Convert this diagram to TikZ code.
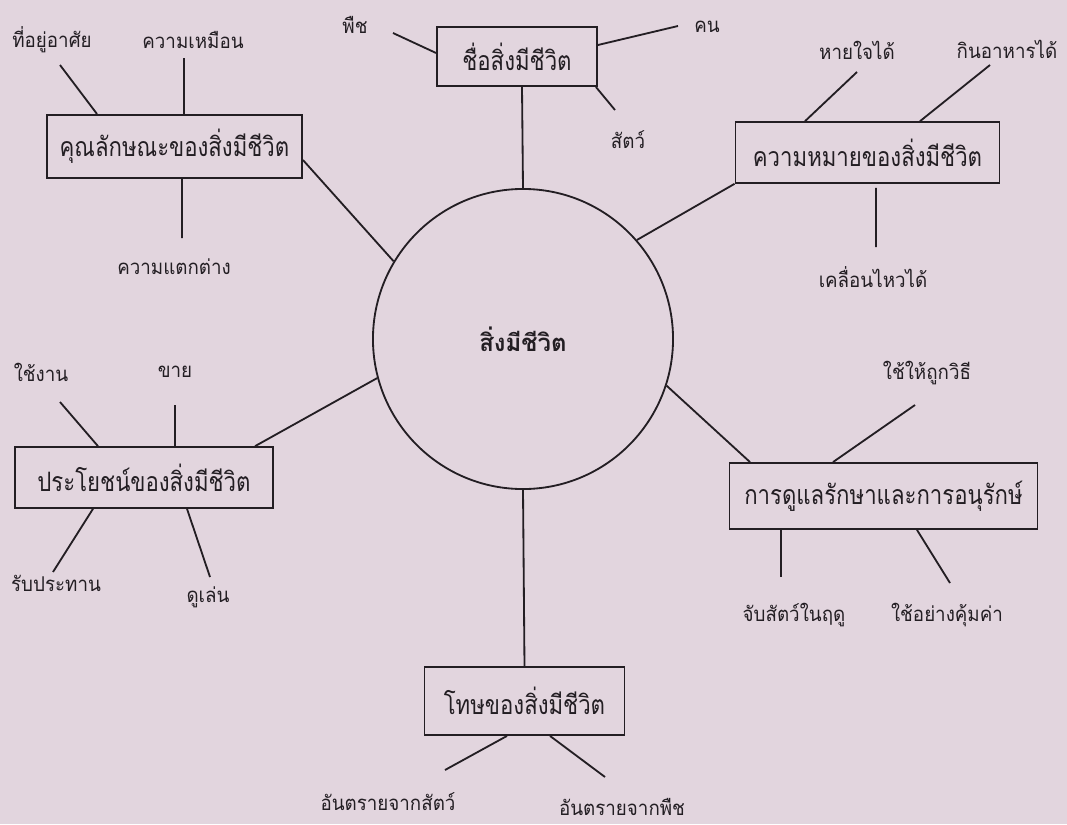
\documentclass[tikz,border=0pt]{standalone}
\usepackage{fontspec}
\newfontfamily\thaifont[Script=Thai]{Loma}
\newfontfamily\thainarrow[Script=Thai, FakeStretch=0.83]{Loma}
\newfontfamily\thaileaf[Script=Thai, FakeStretch=0.92]{Loma}
\usepackage{tikz}
\definecolor{paperpink}{RGB}{226,213,222}
\definecolor{inkdark}{RGB}{35,30,35}

\begin{document}
\begin{tikzpicture}[x=0.025cm, y=-0.025cm,
    topic/.style={rectangle, draw=inkdark, line width=1.3pt,
                  inner sep=2pt, text=inkdark,
                  font=\thainarrow\fontsize{19}{22}\selectfont},
    core/.style={circle, draw=inkdark, line width=1.3pt,
                 minimum size=7.5cm, inner sep=0pt, text=inkdark,
                 font=\thaifont\bfseries\fontsize{17}{20}\selectfont},
    leaf/.style={inner sep=1pt, text=inkdark,
                 font=\thaileaf\fontsize{14.5}{17}\selectfont},
    ln/.style={draw=inkdark, line width=1.3pt}
]
    % paper
    \fill[paperpink] (0,0) rectangle (1067,824);
    \useasboundingbox (0,0) rectangle (1067,824);

    % centre
    \node[core] (cen) at (523,339) {สิ่งมีชีวิต};

    % topics
    \node[topic, minimum width=4cm, minimum height=1.48cm]
        (names) at (517,56.5) {ชื่อสิ่งมีชีวิต};
    \node[topic, minimum width=6.375cm, minimum height=1.58cm]
        (trait) at (174.5,146.5) {คุณลักษณะของสิ่งมีชีวิต};
    \node[topic, minimum width=6.6cm, minimum height=1.52cm]
        (mean) at (867.5,152.5) {ความหมายของสิ่งมีชีวิต};
    \node[topic, minimum width=6.45cm, minimum height=1.52cm]
        (use) at (144,477.5) {ประโยชน์ของสิ่งมีชีวิต};
    \node[topic, minimum width=7.7cm, minimum height=1.65cm]
        (care) at (883.5,496) {การดูแลรักษาและการอนุรักษ์};
    \node[topic, minimum width=5cm, minimum height=1.7cm]
        (harm) at (524.5,701) {โทษของสิ่งมีชีวิต};

    % leaves
    \node[leaf] (plant)  at (355,25)  {พืช};
    \node[leaf] (human)  at (707,27)  {คน};
    \node[leaf] (animal) at (628,140) {สัตว์};
    \node[leaf] (home)   at (52,40)   {ที่อยู่อาศัย};
    \node[leaf] (alike)  at (193,40)  {ความเหมือน};
    \node[leaf] (differ) at (174,267) {ความแตกต่าง};
    \node[leaf] (breath) at (857,50)  {หายใจได้};
    \node[leaf] (eat)    at (1007,49) {กินอาหารได้};
    \node[leaf] (move)   at (873,277) {เคลื่อนไหวได้};
    \node[leaf] (work)   at (41,372)  {ใช้งาน};
    \node[leaf] (sell)   at (175,372) {ขาย};
    \node[leaf] (food)   at (56,583)  {รับประทาน};
    \node[leaf] (pet)    at (208,597) {ดูเล่น};
    \node[leaf] (right)  at (927,373) {ใช้ให้ถูกวิธี};
    \node[leaf] (season) at (794,615) {จับสัตว์ในฤดู};
    \node[leaf] (worth)  at (947,615) {ใช้อย่างคุ้มค่า};
    \node[leaf] (hanim)  at (388,802) {อันตรายจากสัตว์};
    \node[leaf] (hplant) at (622,807) {อันตรายจากพืช};

    % free ends of the short spokes
    \coordinate (e-plant)  at (393,33);
    \coordinate (e-human)  at (678,26);
    \coordinate (e-animal) at (615,110);
    \coordinate (e-home)   at (60,65);
    \coordinate (e-alike)  at (184,58);
    \coordinate (e-differ) at (182,238);
    \coordinate (e-breath) at (857,72);
    \coordinate (e-eat)    at (990,65);
    \coordinate (e-move)   at (876,247);
    \coordinate (e-work)   at (60,402);
    \coordinate (e-sell)   at (175,405);
    \coordinate (e-food)   at (53,572);
    \coordinate (e-pet)    at (210,577);
    \coordinate (e-right)  at (915,405);
    \coordinate (e-season) at (781,577);
    \coordinate (e-worth)  at (950,583);
    \coordinate (e-hanim)  at (445,770);
    \coordinate (e-hplant) at (605,777);

    % spokes from the centre
    \draw[ln] ([shift={(5,0)}]names.south) -- (cen.north);
    \draw[ln] ([shift={(0,13.5)}]trait.east) -- (cen.149);
    \draw[ln] (mean.south west) -- (cen.41);
    \draw[ln] ([shift={(111,0)}]use.north) -- (cen.195);
    \draw[ln] ([shift={(-133.5,0)}]care.north) -- (cen.342);
    \draw[ln] (cen.south) -- (harm.north);

    % spokes to the leaves
    \draw[ln] ([shift={(0,-3.5)}]names.west) -- (e-plant);
    \draw[ln] ([shift={(0,-11.5)}]names.east) -- (e-human);
    \draw[ln] ([shift={(-2,0)}]names.south east) -- (e-animal);
    \draw[ln] ([shift={(-77.5,0)}]trait.north) -- (e-home);
    \draw[ln] ([shift={(9.5,0)}]trait.north) -- (e-alike);
    \draw[ln] ([shift={(7.5,0)}]trait.south) -- (e-differ);
    \draw[ln] ([shift={(-62.5,0)}]mean.north) -- (e-breath);
    \draw[ln] ([shift={(52.5,0)}]mean.north) -- (e-eat);
    \draw[ln] ([shift={(8.5,4)}]mean.south) -- (e-move);
    \draw[ln] ([shift={(-46,0)}]use.north) -- (e-work);
    \draw[ln] ([shift={(31,0)}]use.north) -- (e-sell);
    \draw[ln] ([shift={(-51,0)}]use.south) -- (e-food);
    \draw[ln] ([shift={(43,0)}]use.south) -- (e-pet);
    \draw[ln] ([shift={(-50.5,0)}]care.north) -- (e-right);
    \draw[ln] ([shift={(-102.5,0)}]care.south) -- (e-season);
    \draw[ln] ([shift={(33.5,0)}]care.south) -- (e-worth);
    \draw[ln] ([shift={(-17.5,0)}]harm.south) -- (e-hanim);
    \draw[ln] ([shift={(25.5,0)}]harm.south) -- (e-hplant);
\end{tikzpicture}
\end{document}
